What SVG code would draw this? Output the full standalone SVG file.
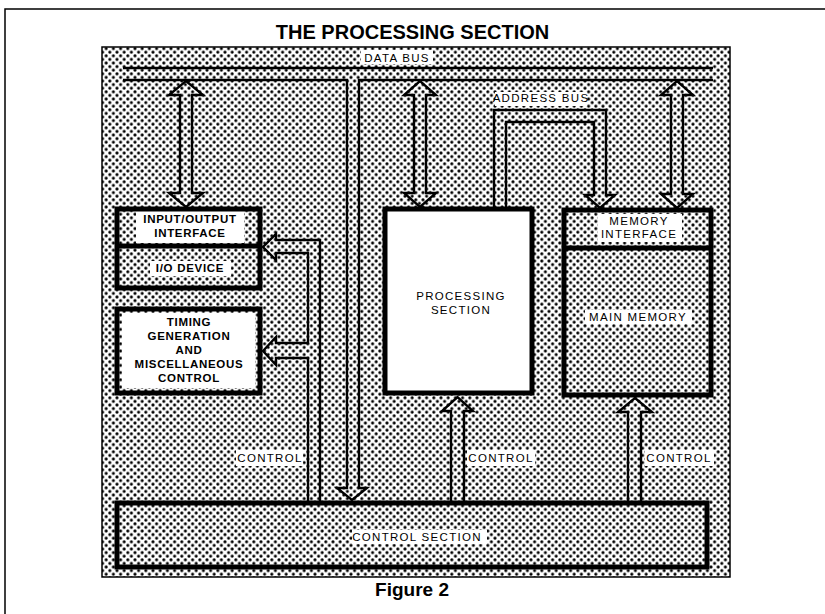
<svg xmlns="http://www.w3.org/2000/svg" width="825" height="614" viewBox="0 0 825 614">
  <defs>
    <!-- halftone dot screen used as the panel background -->
    <pattern id="dots" patternUnits="userSpaceOnUse" width="7.2" height="7.2">
      <circle cx="1.8" cy="1.8" r="1.55" fill="#000"/>
      <circle cx="5.4" cy="5.4" r="1.55" fill="#000"/>
    </pattern>
  </defs>
  <style>
    .frame{fill:none;stroke:#000;stroke-width:1.5}
    .box{fill:none;stroke:#000;stroke-width:5}
    .wire{fill:none;stroke:#000;stroke-width:2.4;stroke-linejoin:miter}
    .bg{fill:#fff}
    .lbl{font-family:"Liberation Sans",Arial,Helvetica,sans-serif;font-size:11.5px;letter-spacing:1.3px;text-anchor:middle;fill:#000}
    .lblb{font-family:"Liberation Sans",Arial,Helvetica,sans-serif;font-size:11.5px;font-weight:bold;letter-spacing:0.7px;text-anchor:middle;fill:#000}
    .title{font-family:"Liberation Sans",Arial,Helvetica,sans-serif;font-weight:bold;font-size:20px;text-anchor:middle;fill:#000}
    .caption{font-family:"Liberation Sans",Arial,Helvetica,sans-serif;font-weight:bold;font-size:19px;text-anchor:middle;fill:#000}
  </style>

  <rect width="825" height="614" fill="#fff"/>
  <!-- page rule -->
  <path class="frame" d="M5,614 V9 H825"/>

  <text class="title" x="412.5" y="39">THE PROCESSING SECTION</text>

  <!-- stippled panel -->
  <rect x="102" y="47" width="628" height="530" fill="url(#dots)" stroke="#000" stroke-width="1.5"/>

  <!-- connectors: buses and control paths -->
  <g id="connectors">
    <!-- data bus -->
    <path class="wire" d="M123,68 H713"/>
    <path class="wire" d="M123,80 H347 V488 H337 L352,500 L367,488 H359 V80 H713"/>
    <!-- data bus to I/O interface -->
    <path class="wire" d="M180,95 H169 L186,81 L203,95 H192 V193 H203 L186,207 L169,193 H180 Z"/>
    <!-- data bus to processing section -->
    <path class="wire" d="M414,95 H404 L420,81 L436,95 H426 V193 H436 L420,207 L404,193 H414 Z"/>
    <!-- data bus to memory interface -->
    <path class="wire" d="M671,95 H661 L677,81 L693,95 H683 V194 H693 L677,208 L661,194 H671 Z"/>
    <!-- address bus -->
    <path class="wire" d="M494,207 V110 H606 V195 H615 L600,208 L585,195 H594 V122 H506 V207"/>
    <!-- control lines -->
    <path class="wire" d="M320,501 V240 H276 V234 L263,247 L276,260 V253 H308 V343 H276 V337 L263,351 L276,365 V358 H308 V501"/>
    <path class="wire" d="M451,501 V411 H442 L457.5,397 L473,411 H464 V501"/>
    <path class="wire" d="M628,501 V412 H618 L635,398 L652,412 H641 V501"/>

    <rect class="bg" x="361" y="50" width="72" height="14"/>
    <text class="lbl" x="397" y="62">DATA BUS</text>
    <rect class="bg" x="495" y="92" width="92" height="14"/>
    <text class="lbl" x="541" y="102">ADDRESS BUS</text>

    <rect class="bg" x="236" y="450" width="67" height="16"/>
    <text class="lbl" x="270" y="462">CONTROL</text>
    <rect class="bg" x="467" y="450" width="68" height="16"/>
    <text class="lbl" x="501" y="462">CONTROL</text>
    <rect class="bg" x="645" y="450" width="69" height="16"/>
    <text class="lbl" x="679" y="462">CONTROL</text>
  </g>

  <g id="io-interface">
    <rect class="bg" x="136" y="211" width="108" height="32"/>
    <rect class="bg" x="150" y="261" width="81" height="15"/>
    <rect class="box" x="117" y="209" width="143" height="79"/>
    <line class="box" x1="117" y1="246" x2="260" y2="246"/>
    <text class="lblb" x="190" y="223">INPUT/OUTPUT</text>
    <text class="lblb" x="190" y="237">INTERFACE</text>
    <text class="lblb" x="190" y="272">I/O DEVICE</text>
  </g>

  <g id="timing">
    <rect class="bg" x="122" y="313" width="133" height="75"/>
    <rect class="box" x="117" y="309" width="143" height="84"/>
    <text class="lblb" x="189" y="326">TIMING</text>
    <text class="lblb" x="189" y="340">GENERATION</text>
    <text class="lblb" x="189" y="354">AND</text>
    <text class="lblb" x="189" y="368">MISCELLANEOUS</text>
    <text class="lblb" x="189" y="382">CONTROL</text>
  </g>

  <g id="processing">
    <rect class="box" x="385" y="209" width="147" height="184" style="fill:#fff"/>
    <text class="lbl" x="461" y="300">PROCESSING</text>
    <text class="lbl" x="461" y="314">SECTION</text>
  </g>

  <g id="memory">
    <rect class="bg" x="598" y="214" width="84" height="28"/>
    <rect class="bg" x="585" y="310" width="107" height="14"/>
    <rect class="box" x="564" y="210" width="147" height="185"/>
    <line class="box" x1="564" y1="248" x2="711" y2="248"/>
    <text class="lbl" x="639" y="225">MEMORY</text>
    <text class="lbl" x="639" y="238">INTERFACE</text>
    <text class="lbl" x="638" y="321">MAIN MEMORY</text>
  </g>

  <g id="control-section">
    <rect class="bg" x="352" y="530" width="135" height="14"/>
    <rect class="box" x="117" y="503" width="590" height="64"/>
    <text class="lbl" x="417" y="541">CONTROL SECTION</text>
  </g>

  <text class="caption" x="412" y="596">Figure 2</text>
</svg>
